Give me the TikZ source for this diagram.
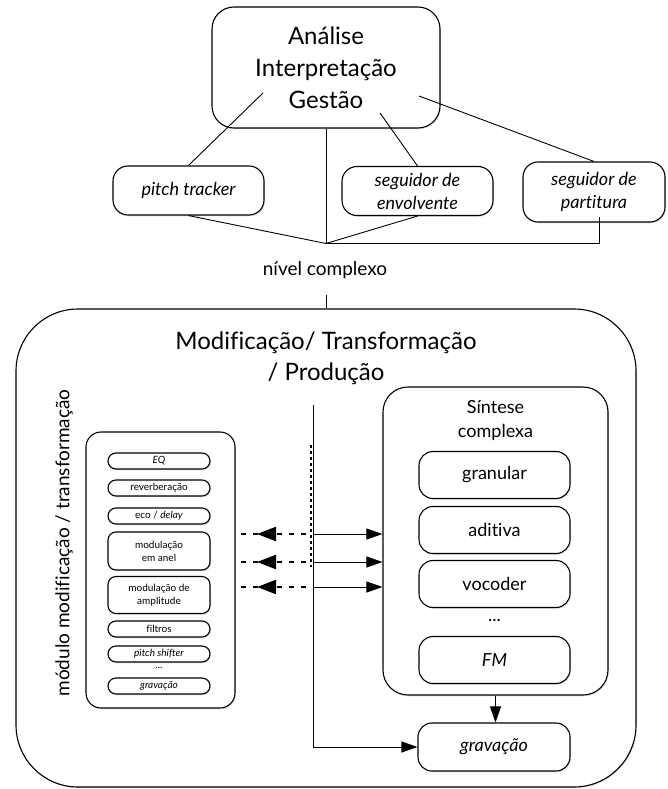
\documentclass[tikz,border=0pt]{standalone}
\usepackage{fontspec}
\setmainfont{Lato}[Ligatures={NoCommon}]
\usetikzlibrary{arrows.meta,shadows,decorations.markings,calc}

\tikzset{
  box/.style={draw, line width=1.1pt, rounded corners=#1, fill=white, align=center,
    inner sep=0pt, drop shadow={shadow xshift=1pt, shadow yshift=-1.3pt, opacity=0.22}},
  box/.default=15pt,
  conn/.style={line width=0.9pt},
  arr/.style={line width=0.9pt, -{Triangle[length=16pt,width=11pt]}},
  dasharrow/.style={line width=2.2pt, dash pattern=on 5pt off 7pt, dash phase=5pt,
    postaction={decorate},
    decoration={markings, mark=at position 56pt with {\arrow{Triangle[length=19pt,width=14pt]}}}},
  bigtxt/.style={font=\fontsize{24}{32}\selectfont},
  midtxt/.style={font=\fontsize{18}{24}\selectfont},
  smalltxt/.style={font=\fontsize{18}{23}\selectfont\itshape},
  tinytxt/.style={font=\fontsize{10}{13}\selectfont},
  upperbox/.style={box=15pt, smalltxt, minimum height=49pt},
  synthbox/.style={box=14pt, midtxt, minimum width=151pt, minimum height=47pt},
  modbox/.style={box=8pt, tinytxt, minimum width=102pt, minimum height=16pt},
}

\begin{document}
\begin{tikzpicture}[x=1pt,y=-1pt]
\useasboundingbox (0,0) rectangle (668,789);

% --- upper level: analysis and its trackers ---
\node[box=22pt, bigtxt, minimum width=228pt, minimum height=121pt] (top) at (326,67.5)
  {Análise\\Interpretação\\Gestão};
\node[upperbox, minimum width=151pt] (pitch) at (188.5,190.5) {pitch tracker};
\node[upperbox, minimum width=151pt] (env) at (417.5,191) {seguidor de\\envolvente};
\node[upperbox, minimum width=142pt, minimum height=60pt] (part) at (594,192) {seguidor de\\partitura};

\coordinate (tA) at (263,93);
\coordinate (tB) at (380,113);
\coordinate (tC) at (419,96);
\coordinate (J) at (326,243.5);
\coordinate (pp) at (599,217);

\draw[conn] (tA) -- (pitch.north);
\draw[conn] (tB) -- (env.north);
\draw[conn] (tC) -- (part.north);
\draw[conn] (top.south) -- (J);
\draw[conn] (pitch.south) -- (J);
\draw[conn] (env.south) -- (J);
\draw[conn] (J) -| (pp);

\node[font=\fontsize{19}{22}\selectfont] (level) at (325,270) {nível complexo};

% --- lower level: modification / transformation / production ---
\node[box=62pt, minimum width=620pt, minimum height=478pt] (big) at (326,548) {};
\coordinate (n1) at (326,295);
\draw[conn] (n1) -- (n1 |- big.north);

\node[align=center, font=\fontsize{24}{31}\selectfont] (title) at (326,358)
  {Modificação/ Transformação\\/ Produção};

\node[rotate=90, font=\fontsize{19}{22}\selectfont] (modlabel) at (64,543)
  {módulo modificação / transformação};

% module box with its effects
\node[box=15pt, minimum width=149pt, minimum height=276pt] (mod) at (160.5,570) {};
\node[modbox] (eq) at (159,461) {\itshape EQ};
\node[modbox] (rev) at (159,488) {reverberação};
\node[modbox] (eco) at (159,516) {eco / \textit{delay}};
\node[modbox, minimum height=38pt] (ring) at (159,551) {modulação\\em anel};
\node[modbox, minimum height=37pt] (am) at (159,595) {modulação de\\amplitude};
\node[modbox] (filt) at (159,629) {filtros};
\node[modbox] (shift) at (159,654) {\itshape pitch shifter};
\node[tinytxt] (mdots) at (159,668) {...};
\node[modbox] (mrec) at (159,686) {\itshape gravação};

% complex synthesis box
\node[box=25pt, minimum width=225pt, minimum height=308pt] (sint) at (495.5,541) {};
\node[midtxt, align=center] (sinttitle) at (495.5,421) {Síntese\\complexa};
\node[synthbox] (gran) at (494.5,475) {granular};
\node[synthbox] (add) at (494.5,530) {aditiva};
\node[synthbox] (voc) at (494.5,584) {vocoder};
\node[midtxt] (sdots) at (494.5,620) {...};
\node[synthbox] (fm) at (494.5,660) {\itshape FM};

% recording
\node[synthbox, minimum width=152pt, minimum height=48pt] (rec) at (494,747) {\itshape gravação};

% central bus
\coordinate (busTop) at (313,405);
\coordinate (dA) at (311,445);
\coordinate (dB) at (311,567);
\coordinate (b1) at (313,534);
\coordinate (b2) at (313,562);
\coordinate (b3) at (313,587);

\draw[arr] (busTop) |- (rec.west);
\draw[line width=1.6pt, dash pattern=on 3pt off 3pt] (dA) -- (dB);

\foreach \b in {b1,b2,b3}{
  \draw[arr] (\b) -- (\b -| sint.west);
  \draw[dasharrow] (\b) -- (\b -| mod.east);
}

\draw[arr] (sint.south) -- (sint.south |- rec.north);
\end{tikzpicture}
\end{document}
